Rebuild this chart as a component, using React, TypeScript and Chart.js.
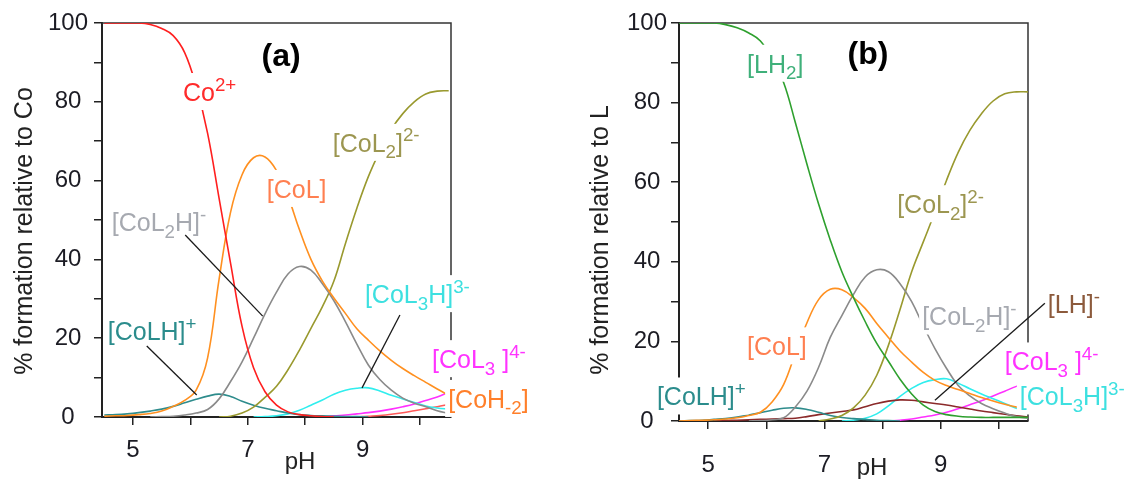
import React, { useEffect, useRef } from 'react';
import { Chart, registerables } from 'chart.js';

Chart.register(...registerables);

const N = null;
const FAMILY = '"Liberation Sans", Arial, Helvetica, sans-serif';

// pH sampling grid shared by both panels
const pHGrid = [4.5, 4.7, 4.9, 5.1, 5.3, 5.5, 5.7, 5.9, 6.1, 6.3, 6.5, 6.7, 6.9, 7.1, 7.3, 7.5, 7.7, 7.9, 8.1, 8.3, 8.5, 8.7, 8.9, 9.1, 9.3, 9.5, 9.7, 9.9, 10.1, 10.3, 10.5];

const xTickValues = [5, 6, 7, 8, 9, 10];
const xTickLabels = ['5', '', '7', '', '9', ''];
const yTickValues = [0, 10, 20, 30, 40, 50, 60, 70, 80, 90, 100];
const yTickLabels = ['0', '', '20', '', '40', '', '60', '', '80', '', '100'];

// ---------- panel (a): % formation relative to Co ----------
const aCo2 = [100, 100, 100, 100, 99.6, 98.6, 96.8, 92.5, 84, 72, 55.5, 39, 23, 12.5, 6.4, 3, 1.3, 0.6, 0.3, 0.1, 0, N, N, N, N, N, N, N, N, N, N];
const aCoL = [0.2, 0.3, 0.4, 0.6, 0.9, 1.5, 2.7, 4.2, 6.8, 15, 35, 52, 61.5, 65.8, 66, 62.5, 56, 47.5, 40, 34.5, 30.2, 26.3, 22.4, 19.5, 16.8, 14.4, 12.3, 10.5, 8.8, 7.1, 5.5];
const aCoL2H = [N, N, N, N, 0, 0.1, 0.2, 0.5, 1, 1.9, 4.6, 9, 14, 20, 26.2, 31.7, 36.3, 38.2, 37.3, 33.8, 29.5, 24.2, 18.5, 13.2, 9.5, 6.8, 4.8, 3.5, 2.6, 1.6, 0.9];
const aCoL2 = [N, N, N, N, N, N, N, N, N, N, 0, 0.2, 1, 2.5, 5, 7.8, 12, 17, 22.5, 28, 34.5, 44, 53, 61, 67.5, 73, 77, 80, 82, 82.7, 82.8];
const aCoLH = [0.5, 0.6, 0.8, 1.1, 1.5, 2, 2.7, 3.6, 4.5, 5.3, 5.8, 5.2, 4, 3, 2.2, 1.6, 1, 0.6, 0.4, 0.3, 0.2, 0.1, 0.1, 0, N, N, N, N, N, N, N];
const aCoL3H = [N, N, N, N, N, N, N, N, N, N, N, N, N, 0, 0.1, 0.3, 0.8, 1.7, 3, 4.3, 5.8, 6.8, 7.3, 7.4, 6.6, 5.5, 4.6, 3.7, 2.8, 2.3, 2];
const aCoL3 = [N, N, N, N, N, N, N, N, N, N, N, N, N, N, N, N, N, N, N, 0, 0.3, 0.5, 0.8, 1.1, 1.5, 2, 2.6, 3.3, 4.2, 5.1, 6.3];
const aCoH2 = [N, N, N, N, N, N, N, N, N, N, N, N, N, N, N, N, N, N, N, N, N, N, 0, 0.2, 0.4, 0.7, 1.1, 1.6, 2.1, 2.6, 3.2];

// ---------- panel (b): % formation relative to L ----------
const bLH2 = [100, 100, 100, 100, 99.6, 98.8, 97.5, 95.5, 91, 85, 75, 64.5, 54.5, 45.5, 37.5, 31, 25, 19.5, 15, 10.5, 6.8, 4, 2.4, 1.6, 1.2, 1, 0.9, 0.9, 0.9, 0.9, 0.9];
const bCoL = [0, 0.1, 0.2, 0.3, 0.5, 0.8, 1.4, 2.2, 4.8, 9.2, 17, 24.7, 30.5, 33.1, 33, 31, 28.3, 24.5, 21, 17.6, 14.8, 12.2, 10.2, 8.9, 7.9, 6.9, 5.9, 5, 4.2, 3.5, 2.9];
const bCoL2H = [N, N, N, N, N, N, 0, 0.1, 0.3, 0.8, 3.5, 7.5, 13.5, 21, 26.5, 31.8, 36.2, 38, 37.5, 34.5, 30, 23.9, 18.2, 13.2, 8.9, 6.3, 4.4, 3.1, 2, 1.1, 0.7];
const bCoL2 = [N, N, N, N, N, N, N, N, N, N, N, N, 0, 0.5, 1.4, 3.3, 6.5, 11.5, 19, 28, 37.5, 45, 52.5, 60.5, 67.5, 73, 77.2, 80.4, 82.2, 82.7, 82.7];
const bCoLH = [0, 0.1, 0.2, 0.4, 0.6, 1, 1.5, 2.1, 2.7, 3.2, 3.3, 2.9, 2.2, 1.4, 0.9, 0.6, 0.4, 0.2, 0.1, 0, N, N, N, N, N, N, N, N, N, N, N];
const bLH = [N, N, N, 0, 0.1, 0.2, 0.3, 0.4, 0.5, 0.6, 0.7, 1.1, 1.6, 2, 2.4, 2.8, 3.6, 4.4, 5, 5.3, 5.2, 4.8, 4.4, 4, 3.5, 3, 2.5, 2.1, 1.7, 1.3, 1];
const bCoL3H = [N, N, N, N, N, N, N, N, N, N, N, N, N, N, 0, 0.2, 0.7, 1.8, 3.8, 6.2, 8.2, 9.7, 10.4, 10.6, 9.5, 8.1, 6.8, 5.6, 4.4, 3.2, 2.3];
const bCoL3 = [N, N, N, N, N, N, N, N, N, N, N, N, N, N, N, N, N, N, 0, 0.2, 0.5, 1, 1.5, 2.2, 3.1, 4.1, 5.1, 6.3, 7.5, 8.7, 9.8];

type Kind = 'n' | 'sub' | 'sup';
type Part = [string, Kind];
interface Annot { parts: Part[]; x: number; y: number; color: string }

// species labels (anchor = left end of text baseline, in pH / % units)
const labelsA: Annot[] = [
  { parts: [['Co', 'n'], ['2+', 'sup']], x: 5.87, y: 80.2, color: '#ff2b2b' },
  { parts: [['[CoL]', 'n']], x: 7.33, y: 55.6, color: '#ff7f50' },
  { parts: [['[CoL', 'n'], ['2', 'sub'], [']', 'n'], ['2-', 'sup']], x: 8.48, y: 67.3, color: '#9c9650' },
  { parts: [['[CoL', 'n'], ['2', 'sub'], ['H]', 'n'], ['-', 'sup']], x: 4.63, y: 47.2, color: '#a6a9b0' },
  { parts: [['[CoLH]', 'n'], ['+', 'sup']], x: 4.56, y: 19.5, color: '#2b8c8c' },
  { parts: [['[CoL', 'n'], ['3', 'sub'], ['H]', 'n'], ['3-', 'sup']], x: 9.04, y: 28.9, color: '#3de0e0' },
  { parts: [['[CoL', 'n'], ['3', 'sub'], [' ]', 'n'], ['4-', 'sup']], x: 10.21, y: 12.4, color: '#ff33ff' },
  { parts: [['[CoH', 'n'], ['-2', 'sub'], [']', 'n']], x: 10.49, y: 2.3, color: '#ff7f2a' },
];
const leadersA = [
  [5.91, 46.2, 7.26, 25.6],
  [5.24, 18.0, 6.11, 5.6],
  [9.65, 25.9, 8.99, 7.4],
];

const labelsB: Annot[] = [
  { parts: [['[LH', 'n'], ['2', 'sub'], [']', 'n']], x: 5.67, y: 87.5, color: '#3fb07a' },
  { parts: [['[CoL', 'n'], ['2', 'sub'], [']', 'n'], ['2-', 'sup']], x: 8.25, y: 52.2, color: '#9c9650' },
  { parts: [['[CoL]', 'n']], x: 5.67, y: 16.5, color: '#ff7f50' },
  { parts: [['[CoLH]', 'n'], ['+', 'sup']], x: 4.12, y: 3.9, color: '#2b8c8c' },
  { parts: [['[CoL', 'n'], ['2', 'sub'], ['H]', 'n'], ['-', 'sup']], x: 8.68, y: 24.0, color: '#a6a9b0' },
  { parts: [['[LH]', 'n'], ['-', 'sup']], x: 10.84, y: 27.1, color: '#8c5a3c' },
  { parts: [['[CoL', 'n'], ['3', 'sub'], [' ]', 'n'], ['4-', 'sup']], x: 10.1, y: 12.7, color: '#ff33ff' },
  { parts: [['[CoL', 'n'], ['3', 'sub'], ['H]', 'n'], ['3-', 'sup']], x: 10.36, y: 3.9, color: '#3de0e0' },
];
const leadersB = [
  [10.79, 29.6, 8.9, 5.2],
];

interface Series { name: string; values: (number | null)[]; color: string }

const seriesA: Series[] = [
  { name: 'Co2+', values: aCo2, color: '#ff1f1f' },
  { name: '[CoL]', values: aCoL, color: '#ff9020' },
  { name: '[CoL2H]-', values: aCoL2H, color: '#8a8a8a' },
  { name: '[CoL2]2-', values: aCoL2, color: '#99992e' },
  { name: '[CoLH]+', values: aCoLH, color: '#2e8c8c' },
  { name: '[CoL3H]3-', values: aCoL3H, color: '#30eeee' },
  { name: '[CoL3]4-', values: aCoL3, color: '#ff30ff' },
  { name: '[CoH-2]', values: aCoH2, color: '#ff5a5a' },
];

const seriesB: Series[] = [
  { name: '[LH2]', values: bLH2, color: '#2ea02e' },
  { name: '[CoL]', values: bCoL, color: '#ff9020' },
  { name: '[CoL2H]-', values: bCoL2H, color: '#8a8a8a' },
  { name: '[CoL2]2-', values: bCoL2, color: '#99992e' },
  { name: '[CoLH]+', values: bCoLH, color: '#2e8c8c' },
  { name: '[LH]-', values: bLH, color: '#8b2a2a' },
  { name: '[CoL3H]3-', values: bCoL3H, color: '#30eeee' },
  { name: '[CoL3]4-', values: bCoL3, color: '#ff30ff' },
];

interface PanelCfg {
  key: string;
  left: number;
  width: number;
  xMin: number;
  xMax: number;
  area: { left: number; top: number; right: number; bottom: number };
  series: Series[];
  labels: Annot[];
  leaders: number[][];
  title: { text: string; x: number; y: number };
  yTitle: { text: string; x: number; y: number };
  xTitle: { text: string; x: number; y: number };
  xTickPad: number;
  yTickPad: number;
}

const HEIGHT = 479;
const LABEL_SIZE = 25;

const panelA: PanelCfg = {
  key: 'a', left: 0, width: 560, xMin: 4.46, xMax: 10.54,
  area: { left: 102, top: 23, right: 451, bottom: 417 },
  series: seriesA, labels: labelsA, leaders: leadersA,
  title: { text: '(a)', x: 7.58, y: 91.4 },
  yTitle: { text: '% formation relative to Co', x: 32, y: 231 },
  xTitle: { text: 'pH', x: 300, y: 469 },
  xTickPad: 11, yTickPad: 6,
};

const panelB: PanelCfg = {
  key: 'b', left: 560, width: 571, xMin: 4.5, xMax: 10.5,
  area: { left: 119, top: 23, right: 468, bottom: 421 },
  series: seriesB, labels: labelsB, leaders: leadersB,
  title: { text: '(b)', x: 7.75, y: 92 },
  yTitle: { text: '% formation relative to L', x: 48, y: 240 },
  xTitle: { text: 'pH', x: 312, y: 475 },
  xTickPad: 22, yTickPad: 4,
};

function fontFor(kind: Kind, size: number) {
  return `${kind === 'n' ? size : size * 0.75}px ${FAMILY}`;
}

function richWidth(ctx: CanvasRenderingContext2D, parts: Part[], size: number) {
  let w = 0;
  for (const [t, k] of parts) {
    ctx.font = fontFor(k, size);
    w += ctx.measureText(t).width;
  }
  return w;
}

function drawRich(ctx: CanvasRenderingContext2D, parts: Part[], x: number, y: number, size: number) {
  let cx = x;
  for (const [t, k] of parts) {
    ctx.font = fontFor(k, size);
    const dy = k === 'sup' ? -size * 0.42 : k === 'sub' ? size * 0.26 : 0;
    ctx.fillText(t, cx, y + dy);
    cx += ctx.measureText(t).width;
  }
}

function makePlugin(cfg: PanelCfg) {
  return {
    id: 'speciation-annotations-' + cfg.key,
    beforeDatasetsDraw(chart: any) {
      const { ctx, chartArea: a } = chart;
      ctx.save();
      ctx.strokeStyle = '#333';
      ctx.lineWidth = 1.5;
      ctx.beginPath();
      ctx.moveTo(a.left, a.top);
      ctx.lineTo(a.right, a.top);
      ctx.lineTo(a.right, a.bottom);
      ctx.stroke();
      ctx.restore();
    },
    afterDatasetsDraw(chart: any) {
      const ctx: CanvasRenderingContext2D = chart.ctx;
      const xs = chart.scales.x;
      const ys = chart.scales.y;
      const px = (v: number) => xs.getPixelForValue(v);
      const py = (v: number) => ys.getPixelForValue(v);
      ctx.save();
      ctx.textBaseline = 'alphabetic';
      ctx.textAlign = 'left';
      // white backing boxes (these break the curves like in the original figure)
      for (const l of cfg.labels) {
        const w = richWidth(ctx, l.parts, LABEL_SIZE);
        const x = px(l.x);
        const y = py(l.y);
        ctx.fillStyle = '#ffffff';
        ctx.fillRect(x - 3, y - LABEL_SIZE - 3, w + 6, LABEL_SIZE * 1.28 + 5);
      }
      // leader lines
      ctx.strokeStyle = '#1a1a1a';
      ctx.lineWidth = 1.3;
      for (const [x1, y1, x2, y2] of cfg.leaders) {
        ctx.beginPath();
        ctx.moveTo(px(x1), py(y1));
        ctx.lineTo(px(x2), py(y2));
        ctx.stroke();
      }
      // species labels
      for (const l of cfg.labels) {
        ctx.fillStyle = l.color;
        drawRich(ctx, l.parts, px(l.x), py(l.y), LABEL_SIZE);
      }
      // panel letter
      ctx.fillStyle = '#000';
      ctx.font = `bold 32px ${FAMILY}`;
      ctx.textAlign = 'center';
      ctx.textBaseline = 'middle';
      ctx.fillText(cfg.title.text, px(cfg.title.x), py(cfg.title.y));
      // axis titles
      ctx.fillStyle = '#222';
      ctx.font = `24px ${FAMILY}`;
      ctx.textBaseline = 'alphabetic';
      ctx.fillText(cfg.xTitle.text, cfg.xTitle.x, cfg.xTitle.y);
      ctx.save();
      ctx.translate(cfg.yTitle.x, cfg.yTitle.y);
      ctx.rotate(-Math.PI / 2);
      ctx.font = `25px ${FAMILY}`;
      ctx.fillText(cfg.yTitle.text, 0, 0);
      ctx.restore();
      ctx.restore();
    },
  };
}

function Panel({ cfg }: { cfg: PanelCfg }) {
  const ref = useRef<HTMLCanvasElement | null>(null);
  useEffect(() => {
    if (!ref.current) return;
    const a = cfg.area;
    const tickFont = { family: FAMILY, size: 24 };
    const gridOpts = { display: true, drawOnChartArea: false, drawTicks: true, tickLength: 8, color: '#222', lineWidth: 1.5 };
    const borderOpts = { display: true, color: '#222', width: 2 };
    const chart = new Chart(ref.current, {
      type: 'line',
      data: {
        datasets: cfg.series.map((s) => ({
          label: s.name,
          data: pHGrid.map((x, i) => ({ x, y: s.values[i] })),
          borderColor: s.color,
          backgroundColor: s.color,
          borderWidth: 1.6,
          pointRadius: 0,
          tension: 0.4,
          fill: false,
          spanGaps: false,
        })),
      },
      options: {
        responsive: false,
        animation: false,
        events: [],
        layout: { padding: { left: 0, top: a.top, right: cfg.width - a.right, bottom: 0 } },
        plugins: { legend: { display: false }, tooltip: { enabled: false } },
        scales: {
          x: {
            type: 'linear',
            min: cfg.xMin,
            max: cfg.xMax,
            afterBuildTicks: (s: any) => { s.ticks = xTickValues.map((v) => ({ value: v })); },
            afterFit: (s: any) => { s.height = HEIGHT - a.bottom; },
            ticks: {
              autoSkip: false,
              maxRotation: 0,
              padding: cfg.xTickPad,
              font: tickFont,
              color: '#1c1c24',
              callback: (v: any) => xTickLabels[xTickValues.indexOf(Number(v))] ?? '',
            },
            grid: gridOpts,
            border: borderOpts,
          },
          y: {
            type: 'linear',
            min: 0,
            max: 100,
            afterBuildTicks: (s: any) => { s.ticks = yTickValues.map((v) => ({ value: v })); },
            afterFit: (s: any) => { s.width = a.left; },
            ticks: {
              autoSkip: false,
              crossAlign: 'center',
              padding: cfg.yTickPad,
              font: tickFont,
              color: '#1c1c24',
              callback: (v: any) => yTickLabels[yTickValues.indexOf(Number(v))] ?? '',
            },
            grid: gridOpts,
            border: borderOpts,
          },
        },
      } as any,
      plugins: [makePlugin(cfg)],
    } as any);
    return () => chart.destroy();
  }, [cfg]);
  return (
    <canvas
      ref={ref}
      width={cfg.width}
      height={HEIGHT}
      style={{ position: 'absolute', left: cfg.left, top: 0, width: cfg.width, height: HEIGHT }}
    />
  );
}

export default function App() {
  return (
    <div style={{ position: 'absolute', left: 0, top: 0, width: 1131, height: HEIGHT, background: '#fff', overflow: 'hidden' }}>
      <Panel cfg={panelA} />
      <Panel cfg={panelB} />
    </div>
  );
}
